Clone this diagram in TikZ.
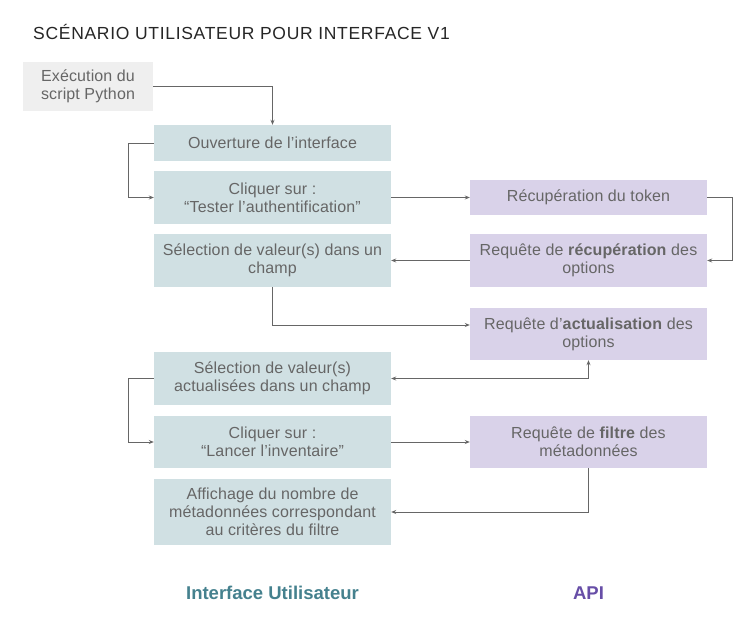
\documentclass[tikz,border=0pt]{standalone}
\usepackage{fontspec}
\setmainfont{Liberation Sans}
\usetikzlibrary{arrows.meta}

\definecolor{uibox}{HTML}{D0E0E3}
\definecolor{apibox}{HTML}{D9D2E9}
\definecolor{startbox}{HTML}{EFEFEF}
\definecolor{boxtext}{HTML}{666666}
\definecolor{linegray}{HTML}{666666}
\definecolor{uititle}{HTML}{45818E}
\definecolor{apititle}{HTML}{674EA7}

\tikzset{
	uistep/.style={fill=uibox, text=boxtext, minimum width=237pt, align=center,
		inner sep=0pt, font=\fontsize{16}{18}\selectfont\addfontfeature{LetterSpace=0.8}},
	apistep/.style={uistep, fill=apibox},
	startstep/.style={uistep, fill=startbox, minimum width=130pt, minimum height=49pt},
	link/.style={draw=linegray, line width=0.8pt, -{Stealth[length=5pt,width=4pt]}},
	coltitle/.style={font=\fontsize{18.5}{22}\selectfont\bfseries, anchor=base}
}

\begin{document}
\begin{tikzpicture}[x=1pt,y=-1pt]

	\useasboundingbox[fill=white] (0,0) rectangle (755,627);

	\node[anchor=base west, inner sep=0pt, text=black!85, font=\fontsize{17.5}{20}\selectfont\addfontfeature{LetterSpace=4}] (titre) at (33,39) {SCÉNARIO UTILISATEUR POUR INTERFACE V1};

	% colonne interface
	\node[startstep] (exec) at (88,86.5) {Exécution du\\script Python};
	\node[uistep, minimum height=36pt] (ouv) at (272.5,143) {Ouverture de l'interface};
	\node[uistep, minimum height=53pt] (test) at (272.5,197.5) {Cliquer sur :\\“Tester l'authentification"};
	\node[uistep, minimum height=53pt] (sel) at (272.5,260.5) {Sélection de valeur(s) dans un\\champ};
	\node[uistep, minimum height=53pt] (selact) at (272.5,378.5) {Sélection de valeur(s)\\actualisées dans un champ};
	\node[uistep, minimum height=52pt] (lancer) at (272.5,442) {Cliquer sur :\\“Lancer l'inventaire"};
	\node[uistep, minimum height=66pt] (aff) at (272.5,512) {Affichage du nombre de\\métadonnées correspondant\\au critères du filtre};

	% colonne api
	\node[apistep, minimum height=35pt] (token) at (588.5,197.5) {Récupération du token};
	\node[apistep, minimum height=53pt] (recup) at (588.5,260.5) {Requête de \textbf{récupération} des\\options};
	\node[apistep, minimum height=52pt] (actu) at (588.5,334) {Requête d'\textbf{actualisation} des\\options};
	\node[apistep, minimum height=52pt] (filtre) at (588.5,442) {Requête de \textbf{filtre} des\\métadonnées};

	\node[coltitle, text=uititle] (ui) at (272.5,599) {Interface Utilisateur};
	\node[coltitle, text=apititle] (api) at (588.5,599) {API};

	% liens
	\draw[link] (exec.east) -| (ouv.north);
	\draw[link] (ouv.west) -- ++(-25,0) |- (test.west);
	\draw[link] (test.east) -- (token.west);
	\draw[link] (token.east) -- ++(25,0) |- (recup.east);
	\draw[link] (recup.west) -- (sel.east);
	\draw[link] (sel.south) |- ([yshift=9pt]actu.west);
	\draw[link, {Stealth[length=5pt,width=4pt]}-{Stealth[length=5pt,width=4pt]}] (actu.south) |- (selact.east);
	\draw[link] (selact.west) -- ++(-25,0) |- (lancer.west);
	\draw[link] (lancer.east) -- (filtre.west);
	\draw[link] (filtre.south) |- (aff.east);

\end{tikzpicture}
\end{document}
